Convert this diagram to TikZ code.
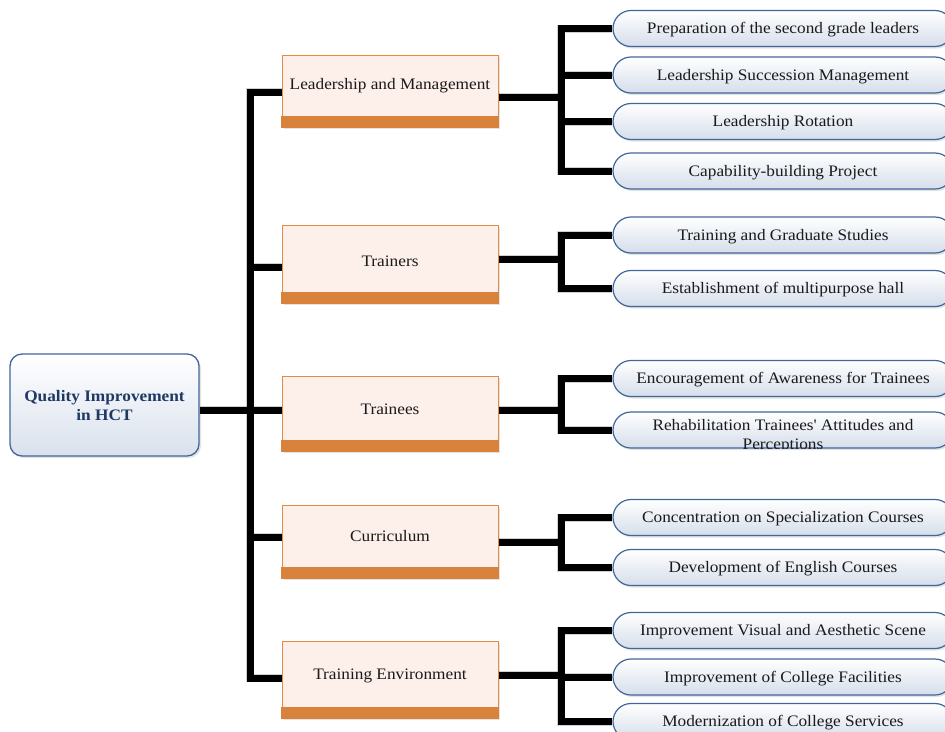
\documentclass[tikz,border=0pt]{standalone}
\usepackage{fontspec}
\setmainfont{Liberation Serif}[FakeStretch=1.08]
\usetikzlibrary{shadows}
\definecolor{orfill}{HTML}{FDEFEA}
\definecolor{ordraw}{HTML}{E38B45}
\definecolor{orstrip}{HTML}{D9823B}
\definecolor{bldraw}{HTML}{41679A}
\definecolor{blbot}{HTML}{D5DEEB}
\definecolor{navy}{HTML}{1F3864}
\definecolor{txt}{HTML}{1A1A1A}
\begin{document}
\begin{tikzpicture}[x=1pt,y=-1pt,
 every node/.style={font=\fontsize{16}{19}\selectfont, text=txt},
 midbox/.style={draw=ordraw, line width=1pt, fill=orfill, minimum width=216pt, minimum height=#1, inner sep=0pt,
   drop shadow={shadow xshift=2pt, shadow yshift=-2pt, opacity=.22}},
 pill/.style={draw=bldraw, line width=1.2pt, rounded corners=18pt, top color=white, bottom color=blbot,
   minimum width=340pt, minimum height=36pt, inner sep=0pt,
   drop shadow={shadow xshift=1.5pt, shadow yshift=-2pt, opacity=.22}},
 rootbox/.style={draw=bldraw, line width=1.3pt, rounded corners=12pt, top color=white, bottom color=blbot!90,
   minimum width=189pt, minimum height=102pt, inner sep=0pt, align=center,
   drop shadow={shadow xshift=2pt, shadow yshift=-2pt, opacity=.22}},
 conn/.style={line width=7pt, line join=miter, black},
 connsh/.style={line width=8pt, line join=miter, black, opacity=.18},
 striptext/.style={inner sep=0pt},
 pilltext/.style={inner sep=0pt, align=center}
]
\useasboundingbox (0,0) rectangle (945,731);
\clip (0,0) rectangle (945,731);

% root
\node[rootbox] (root) at (104.5,405) {};
\node[font=\fontsize{16}{19}\selectfont\bfseries, text=navy, align=center] (roott) at ([yshift=-1pt]root.center) {Quality Improvement\\in HCT};

% middle boxes (full height incl. strip)
\node[midbox=72pt] (lm) at (390,91) {};
\node[midbox=78pt] (tr) at (390,264) {};
\node[midbox=75pt] (te) at (390,413.5) {};
\node[midbox=73pt] (cu) at (390,541.5) {};
\node[midbox=77pt] (en) at (390,679.5) {};
\foreach \b in {lm,tr,te,cu,en}{
  \fill[orstrip] ([xshift=-0.5pt]\b.south west) rectangle ([xshift=0.5pt,yshift=12pt]\b.south east);
}
\node[striptext] (lmt) at ([yshift=5pt]lm.center) {Leadership and Management};
\node[striptext] (trt) at ([yshift=3pt]tr.center) {Trainers};
\node[striptext] (tet) at ([yshift=4pt]te.center) {Trainees};
\node[striptext] (cut) at ([yshift=5pt]cu.center) {Curriculum};
\node[striptext] (ent) at ([yshift=4pt]en.center) {Training Environment};

% pills
\node[pill] (p1) at (783,28.5) {};
\node[pill] (p2) at (783,75) {};
\node[pill] (p3) at (783,121.5) {};
\node[pill] (p4) at (783,171) {};
\node[pill] (p5) at (783,235) {};
\node[pill] (p6) at (783,288.5) {};
\node[pill] (p7) at (783,378.5) {};
\node[pill] (p8) at (783,430) {};
\node[pill] (p9) at (783,517.5) {};
\node[pill] (p10) at (783,567.5) {};
\node[pill] (p11) at (783,630.5) {};
\node[pill] (p12) at (783,677) {};
\node[pill] (p13) at (783,721.5) {};
\node[pilltext] (p1t) at ([yshift=-1.5pt]p1.center) {Preparation of the second grade leaders};
\node[pilltext] (p2t) at ([yshift=-1.5pt]p2.center) {Leadership Succession Management};
\node[pilltext] (p3t) at ([yshift=-1.5pt]p3.center) {Leadership Rotation};
\node[pilltext] (p4t) at ([yshift=-1.5pt]p4.center) {Capability-building Project};
\node[pilltext] (p5t) at ([yshift=-1.5pt]p5.center) {Training and Graduate Studies};
\node[pilltext] (p6t) at ([yshift=-1.5pt]p6.center) {Establishment of multipurpose hall};
\node[pilltext] (p7t) at ([yshift=-1.5pt]p7.center) {Encouragement of Awareness for Trainees};
\begin{scope}
  \clip[rounded corners=18pt] (p8.south west) rectangle (p8.north east);
  \node[pilltext] (p8t) at ([yshift=-6pt]p8.center) {Rehabilitation Trainees\textquotesingle\ Attitudes and\\Perceptions};
\end{scope}
\node[pilltext] (p9t) at ([yshift=-1.5pt]p9.center) {Concentration on Specialization Courses};
\node[pilltext] (p10t) at ([yshift=-1.5pt]p10.center) {Development of English Courses};
\node[pilltext] (p11t) at ([yshift=-1.5pt]p11.center) {Improvement Visual and Aesthetic Scene};
\node[pilltext] (p12t) at ([yshift=-1.5pt]p12.center) {Improvement of College Facilities};
\node[pilltext] (p13t) at ([yshift=-1.5pt]p13.center) {Modernization of College Services};

% junction coordinates
\coordinate (j1) at (250,92);
\coordinate (j2) at (250,267);
\coordinate (j3) at (250,410);
\coordinate (j4) at (250,537);
\coordinate (j5) at (250,678);
\coordinate (r1) at (561,97);
\coordinate (r2) at (561,259);
\coordinate (r3) at (561,410);
\coordinate (r4) at (561,542);
\coordinate (r5) at (561,675);

% connector shadows
\begin{scope}[shift={(2,3)}]
\draw[connsh] (lm.west |- j1) -- (j1) -- (j5) -- (en.west |- j5);
\draw[connsh] (root.east |- j3) -- (te.west |- j3);
\draw[connsh] (j2) -- (tr.west |- j2);
\draw[connsh] (j4) -- (cu.west |- j4);
\draw[connsh] (lm.east |- r1) -- (r1);
\draw[connsh] (p1.west) -- (p1.west -| r1) -- (p4.west -| r1) -- (p4.west);
\draw[connsh] (p2.west -| r1) -- (p2.west);
\draw[connsh] (p3.west -| r1) -- (p3.west);
\draw[connsh] (tr.east |- r2) -- (r2);
\draw[connsh] (p5.west) -- (p5.west -| r2) -- (p6.west -| r2) -- (p6.west);
\draw[connsh] (te.east |- r3) -- (r3);
\draw[connsh] (p7.west) -- (p7.west -| r3) -- (p8.west -| r3) -- (p8.west);
\draw[connsh] (cu.east |- r4) -- (r4);
\draw[connsh] (p9.west) -- (p9.west -| r4) -- (p10.west -| r4) -- (p10.west);
\draw[connsh] (en.east |- r5) -- (r5);
\draw[connsh] (p11.west) -- (p11.west -| r5) -- (p13.west -| r5) -- (p13.west);
\draw[connsh] (p12.west -| r5) -- (p12.west);
\end{scope}

% connectors
\draw[conn] (lm.west |- j1) -- (j1) -- (j5) -- (en.west |- j5);
\draw[conn] (root.east |- j3) -- (te.west |- j3);
\draw[conn] (j2) -- (tr.west |- j2);
\draw[conn] (j4) -- (cu.west |- j4);
\draw[conn] (lm.east |- r1) -- (r1);
\draw[conn] (p1.west) -- (p1.west -| r1) -- (p4.west -| r1) -- (p4.west);
\draw[conn] (p2.west -| r1) -- (p2.west);
\draw[conn] (p3.west -| r1) -- (p3.west);
\draw[conn] (tr.east |- r2) -- (r2);
\draw[conn] (p5.west) -- (p5.west -| r2) -- (p6.west -| r2) -- (p6.west);
\draw[conn] (te.east |- r3) -- (r3);
\draw[conn] (p7.west) -- (p7.west -| r3) -- (p8.west -| r3) -- (p8.west);
\draw[conn] (cu.east |- r4) -- (r4);
\draw[conn] (p9.west) -- (p9.west -| r4) -- (p10.west -| r4) -- (p10.west);
\draw[conn] (en.east |- r5) -- (r5);
\draw[conn] (p11.west) -- (p11.west -| r5) -- (p13.west -| r5) -- (p13.west);
\draw[conn] (p12.west -| r5) -- (p12.west);
\end{tikzpicture}
\end{document}
